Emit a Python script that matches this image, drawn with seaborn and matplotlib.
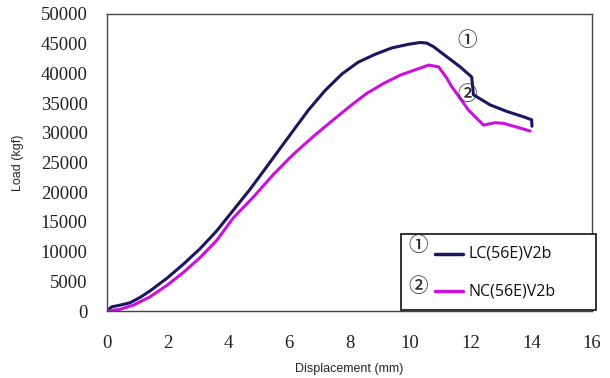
import pandas as pd
import matplotlib.pyplot as plt
import seaborn as sns
from matplotlib.patches import Rectangle

# displacement (mm) / load (kgf)
lc_disp = [0, 0.15, 0.43, 0.76, 1.09, 1.42, 1.97, 2.52, 3.07, 3.62, 4.17, 4.72,
           5.27, 5.60, 6.09, 6.64, 7.19, 7.75, 8.29, 8.84, 9.40, 9.95, 10.33,
           10.55, 10.77, 11.21, 11.65, 12.03, 12.09, 12.64, 13.19, 13.74, 14.01,
           14.02]
lc_load = [0, 700, 1000, 1400, 2300, 3400, 5500, 7900, 10500, 13500, 17000,
           20500, 24300, 26600, 30000, 33800, 37100, 39900, 41900, 43200, 44300,
           44900, 45200, 45100, 44500, 42800, 41100, 39400, 36400, 34700, 33600,
           32700, 32200, 31100]

nc_disp = [0, 0.43, 0.87, 1.42, 1.97, 2.52, 3.07, 3.62, 4.17, 4.83, 5.49, 6.15,
           6.81, 7.47, 8.02, 8.56, 9.12, 9.67, 10.22, 10.61, 10.94, 11.21, 11.37,
           11.65, 11.93, 12.42, 12.8, 13.08, 13.63, 13.96]
nc_load = [0, 300, 1000, 2400, 4300, 6500, 9000, 11900, 15700, 19200, 23000,
           26400, 29400, 32200, 34500, 36600, 38300, 39700, 40700, 41400, 41100,
           39200, 37800, 35800, 33800, 31300, 31700, 31600, 30800, 30300]

series = ["LC(56E)V2b", "NC(56E)V2b"]
marks = ["\u2460", "\u2461"]
colors = ["#1c1660", "#cc10dd"]

df = pd.concat([
    pd.DataFrame({"disp": lc_disp, "load": lc_load, "spec": series[0]}),
    pd.DataFrame({"disp": nc_disp, "load": nc_load, "spec": series[1]}),
])

sns.set_style("white")
plt.rcParams["font.family"] = ["Liberation Sans", "DejaVu Sans"]
cjk = ["Noto Sans CJK JP", "DejaVu Sans"]

fig = plt.figure(figsize=(6.1, 3.78), dpi=100)
ax = fig.add_axes([0.1754, 0.177, 0.7951, 0.786])

sns.lineplot(data=df, x="disp", y="load", hue="spec", palette=colors,
             sort=False, estimator=None, linewidth=2.2, legend=False, ax=ax)

ax.set_xlim(0, 16)
ax.set_ylim(0, 50000)
ax.set_xticks(range(0, 17, 2))
ax.set_yticks(range(0, 50001, 5000))
ax.tick_params(axis="x", direction="in", length=4, pad=17, labelsize=13.5,
               colors="#222222")
ax.tick_params(axis="y", direction="out", length=4, pad=10, labelsize=13.5,
               colors="#222222")
for lab in ax.get_xticklabels() + ax.get_yticklabels():
    lab.set_family("Liberation Serif")
for s in ax.spines.values():
    s.set_color("#444444")
    s.set_linewidth(1.0)

ax.set_xlabel("Displacement (mm)", fontsize=9, labelpad=8)
ax.set_ylabel("Load (kgf)", fontsize=9, labelpad=12)

# curve markers
ax.text(11.88, 45600, marks[0], fontsize=14, ha="center", va="center",
        family=cjk, weight="medium")
ax.text(11.88, 36500, marks[1], fontsize=14, ha="center", va="center",
        family=cjk, weight="medium")

# legend box with circled numbers
ax.add_patch(Rectangle((0.606, 0.003), 0.402, 0.258, transform=ax.transAxes,
                       fill=True, facecolor="white", edgecolor="#222222",
                       linewidth=1.3, clip_on=False, zorder=5))
rows = [(0.222, 0.193), (0.084, 0.067)]
for (ym, yl), name, col, mk in zip(rows, series, colors, marks):
    ax.text(0.641, ym, mk, transform=ax.transAxes, fontsize=14, ha="center",
            va="center", family=cjk, weight="medium", zorder=6)
    ax.plot([0.676, 0.733], [yl, yl], transform=ax.transAxes, color=col,
            linewidth=2.5, clip_on=False, zorder=6)
    ax.text(0.745, yl, name, transform=ax.transAxes, fontsize=11.5, ha="left",
            va="center", family="Open Sans", color="#111111", zorder=6)

fig.savefig("out.png", dpi=100)
